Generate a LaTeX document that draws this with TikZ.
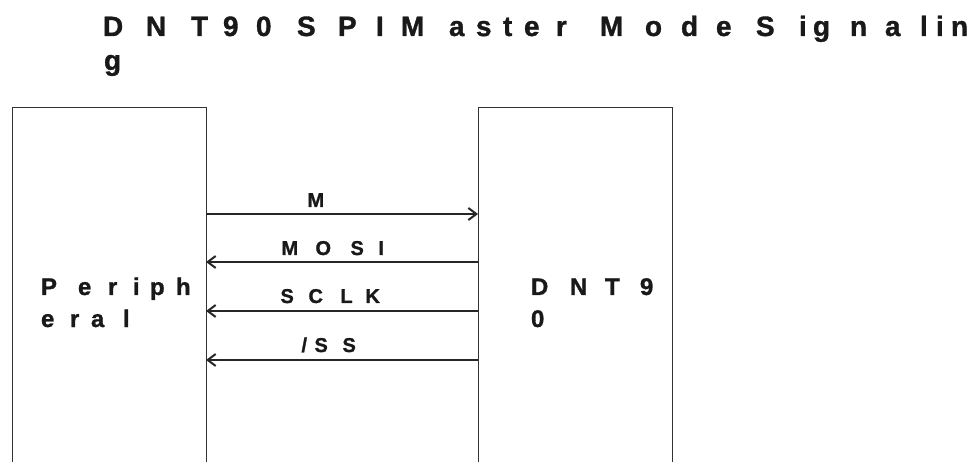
\documentclass[tikz,border=0pt]{standalone}
\usepackage{fontspec}
\newfontfamily\hvb{Liberation Sans}[UprightFont={* Bold},FakeBold=1.2]
\usetikzlibrary{arrows.meta}
\newcommand{\cb}[2]{\makebox[#1pt][l]{#2}}
\begin{document}
\begin{tikzpicture}[x=1pt,y=-1pt,
  txt/.style={inner sep=0pt, outer sep=0pt, anchor=base west, text=black!90},
  ttl/.style={txt, font=\hvb\fontsize{28}{34}\selectfont},
  big/.style={txt, font=\hvb\fontsize{24}{29}\selectfont},
  lab/.style={txt, font=\hvb\fontsize{20}{24}\selectfont},
  blk/.style={draw=black!80, line width=1pt, minimum width=194pt, minimum height=420pt,
              anchor=north west, inner sep=0pt, outer sep=0pt},
  sig/.style={draw=black!85, line width=1.1pt,
              -{Straight Barb[length=8pt,width=12pt,line width=2pt]}}]
\useasboundingbox (0,0) rectangle (980,462);
\clip (0,0) rectangle (980,462);
% title
\node[ttl] (title1) at (103,36) {\cb{43}{D}\cb{45}{N}\cb{32}{T}\cb{33}{9}\cb{41}{0}\cb{41}{S}\cb{38}{P}\cb{25}{I}\cb{48}{M}\cb{27}{a}\cb{27}{s}\cb{21}{t}\cb{32}{e}\cb{44}{r}\cb{45}{M}\cb{36}{o}\cb{35}{d}\cb{40}{e}\cb{43}{S}\cb{14}{i}\cb{37}{g}\cb{35}{n}\cb{35}{a}\cb{16}{l}\cb{15}{i}n};
\node[ttl] (title2) at (104,70) {g};
% blocks
\node[blk] (per) at (12,107.5) {};
\node[blk] (dnt) at (478,107.5) {};
\node[big] (pertxt1) at (41,295) {\cb{37}{P}\cb{30}{e}\cb{25}{r}\cb{17}{i}\cb{26}{p}h};
\node[big] (pertxt2) at (41,327) {\cb{29}{e}\cb{21}{r}\cb{32}{a}l};
\node[big] (dnttxt1) at (531,295) {\cb{39}{D}\cb{35}{N}\cb{35}{T}9};
\node[big] (dnttxt2) at (531,327) {0};
% signals
\draw[sig] (per.east |- 0,214) -- (dnt.west |- 0,214);
\draw[sig] (dnt.west |- 0,262) -- (per.east |- 0,262);
\draw[sig] (dnt.west |- 0,311) -- (per.east |- 0,311);
\draw[sig] (dnt.west |- 0,360) -- (per.east |- 0,360);
\node[lab] (lM) at (307.5,207) {M};
\node[lab] (lMOSI) at (281.5,255) {\cb{34}{M}\cb{35}{O}\cb{28}{S}I};
\node[lab] (lSCLK) at (280.5,303) {\cb{28}{S}\cb{32}{C}\cb{25}{L}K};
\node[lab] (lSS) at (301.5,352) {\cb{13}{/}\cb{28}{S}S};
\end{tikzpicture}
\end{document}
